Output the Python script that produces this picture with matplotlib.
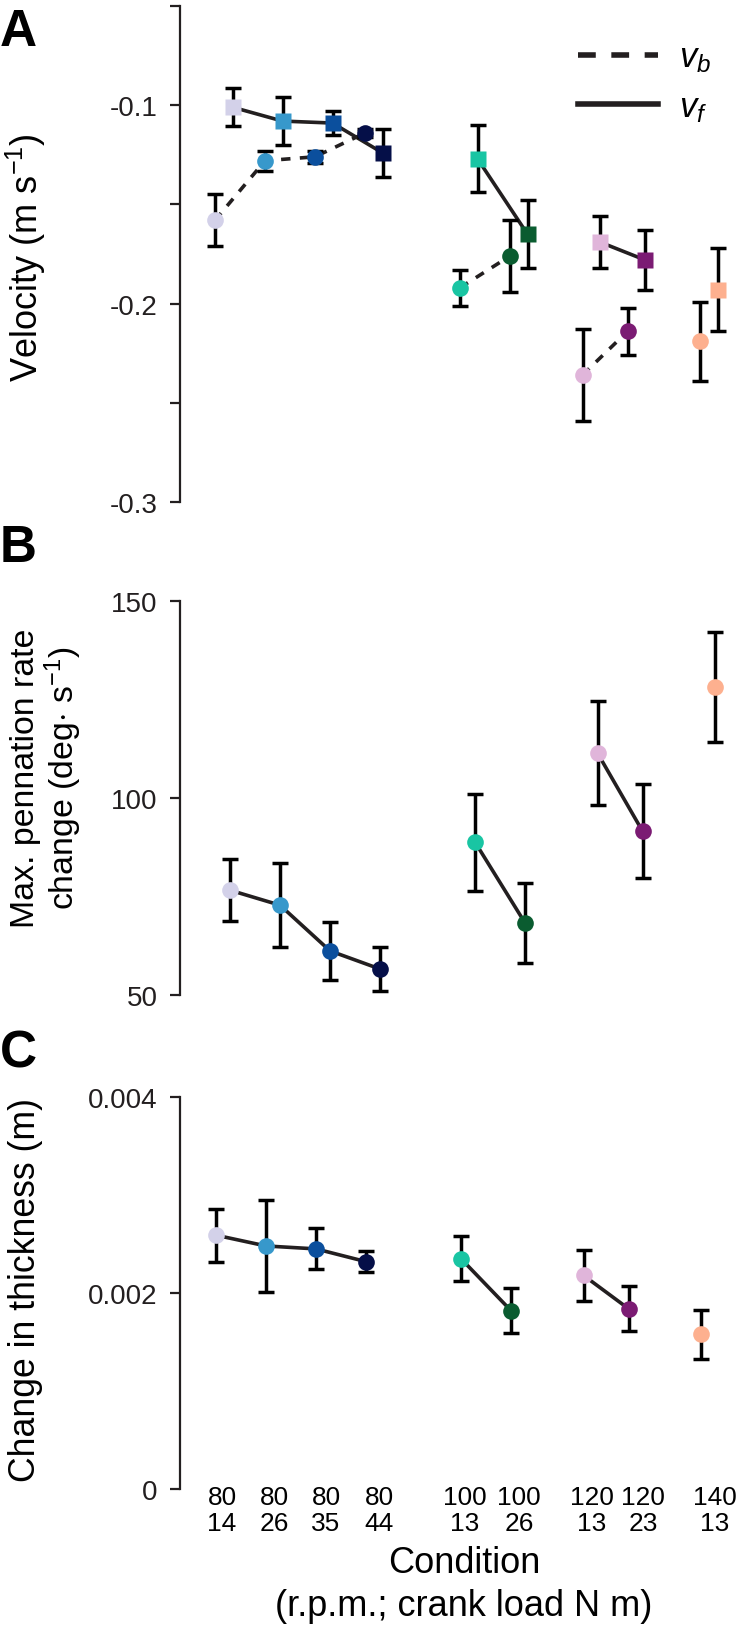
import numpy as np
import matplotlib.pyplot as plt
from matplotlib import font_manager as fm
from matplotlib.lines import Line2D
from matplotlib.ticker import FuncFormatter

# condensed face for axis titles if it is installed, otherwise plain Liberation Sans
NARROW = "Liberation Sans Narrow" in {f.name for f in fm.fontManager.ttflist}
LAB_FONT = ["Liberation Sans Narrow", "Liberation Sans"] if NARROW else ["Liberation Sans"]
SHRINK = 1.0 if NARROW else 0.84

plt.rcParams.update({
    "font.family": ["Liberation Sans", "DejaVu Sans"],
    "mathtext.fontset": "custom",
    "mathtext.rm": "Liberation Sans",
    "mathtext.it": "Liberation Sans:italic",
    "mathtext.bf": "Liberation Sans:bold",
    "axes.linewidth": 1.6,
    "axes.edgecolor": "#231f20",
    "ytick.major.width": 1.6,
    "ytick.minor.width": 1.6,
    "ytick.major.size": 7,
    "ytick.minor.size": 7,
    "ytick.color": "#231f20",
    "ytick.labelsize": 20,
    "ytick.major.pad": 9,
})

# ---- data ----
rpm  = ["80", "80", "80", "80", "100", "100", "120", "120", "140"]
load = ["14", "26", "35", "44", "13", "26", "13", "23", "13"]
colors = ["#d3d1e9", "#3798cb", "#0b4f9d", "#050f48", "#19c5a3",
          "#0a5c30", "#e0b5da", "#7b1b73", "#fdb08f"]
groups = [[0, 1, 2, 3], [4, 5], [6, 7], [8]]

vb_mean = [-0.158, -0.128, -0.126, -0.114, -0.192, -0.176, -0.236, -0.214, -0.219]
vb_err  = [0.013, 0.005, 0.003, 0.002, 0.009, 0.018, 0.023, 0.012, 0.020]
vf_mean = [-0.101, -0.108, -0.109, -0.124, -0.127, -0.165, -0.169, -0.178, -0.193]
vf_err  = [0.0096, 0.012, 0.006, 0.012, 0.017, 0.017, 0.013, 0.015, 0.021]

pen_mean = [76.6, 72.8, 61.2, 56.6, 88.8, 68.3, 111.4, 91.6, 128.2]
pen_err  = [7.8, 10.7, 7.4, 5.6, 12.3, 10.2, 13.2, 12.0, 14.0]

thick_mean = [0.00259, 0.00248, 0.00245, 0.00232, 0.00235, 0.00182, 0.00218, 0.00184, 0.00158]
thick_err  = [0.00027, 0.00047, 0.00021, 0.00011, 0.00023, 0.00023, 0.00026, 0.00023, 0.00025]

# layout: condition slots on the x axis, and where their labels sit
xpos = np.array([1, 2, 3, 4, 5.9, 6.9, 8.35, 9.25, 10.7])
tick_x = [0.84, 1.88, 2.92, 3.98, 5.7, 6.78, 8.24, 9.26, 10.7]

INK = "#231f20"
W, H = 736, 1633
fig = plt.figure(figsize=(W / 100, H / 100), dpi=100)

def px_axes(top, bottom):
    return fig.add_axes([180 / W, (H - bottom) / H, (W - 180) / W, (bottom - top) / H])

def style(ax):
    for s in ("top", "right", "bottom"):
        ax.spines[s].set_visible(False)
    ax.set_xlim(0, 11.12)
    ax.tick_params(axis="x", length=0)

def draw(ax, x, m, e, marker, ls, ms):
    for g in groups:
        if len(g) > 1:
            ax.plot(x[g], [m[i] for i in g], ls=ls, color=INK, lw=2.6, zorder=2,
                    dashes=(2.6, 2.6) if ls == "--" else (None, None), clip_on=False)
    for i in range(len(m)):
        ax.errorbar(x[i], m[i], yerr=e[i], fmt="none", ecolor="black", elinewidth=2.5,
                    capsize=5.5, capthick=2.5, zorder=3, clip_on=False)
        ax.plot(x[i], m[i], marker=marker, ms=ms, color=colors[i], mec="none",
                ls="none", zorder=4, clip_on=False)

# ---- A: velocity ----
axA = px_axes(7, 503)
style(axA)
draw(axA, xpos - 0.3, vb_mean, vb_err, "o", "--", 12)
draw(axA, xpos + 0.05, vf_mean, vf_err, "s", "-", 12)
axA.set_ylim(-0.3, -0.05)
axA.set_yticks([-0.3, -0.2, -0.1])
axA.set_yticks([-0.25, -0.15, -0.05], minor=True)
axA.yaxis.set_major_formatter(FuncFormatter(lambda v, _: f"{v:.1f}"))
axA.set_xticks([])
hnd = [Line2D([], [], color=INK, lw=4, ls="--", dashes=(3.2, 2.8)),
       Line2D([], [], color=INK, lw=4)]
axA.legend(hnd, ["$v_b$", "$v_f$"], loc="upper left", bbox_to_anchor=(0.685, 0.965),
           frameon=False, fontsize=25, handlelength=2.3, handletextpad=0.6,
           labelspacing=0.45, borderpad=0)

# ---- B: pennation rate ----
axB = px_axes(602, 996)
style(axB)
draw(axB, xpos, pen_mean, pen_err, "o", "-", 12)
axB.set_ylim(50, 150)
axB.set_yticks([50, 100, 150])
axB.set_xticks([])

# ---- C: thickness ----
axC = px_axes(1098, 1490)
style(axC)
draw(axC, xpos - 0.28, thick_mean, thick_err, "o", "-", 12)
axC.set_ylim(0, 0.004)
axC.set_yticks([0, 0.002, 0.004])
axC.set_yticklabels(["0", "0.002", "0.004"])
axC.set_xticks(tick_x)
axC.set_xticklabels([f"{r}\n{l}" for r, l in zip(rpm, load)], family=LAB_FONT,
                    fontsize=22.5 * SHRINK, linespacing=1.1)
axC.tick_params(axis="x", pad=-3)

# ---- labels ----
lab = dict(family=LAB_FONT, ha="center", va="center")
fig.text(464 / W, 1 - 1564 / H, "Condition", fontsize=31 * SHRINK, **lab)
fig.text(464 / W, 1 - 1607 / H, "(r.p.m.; crank load N m)", fontsize=31 * SHRINK, **lab)
fig.text(26 / W, 1 - 258 / H, "Velocity (m s$^{-1}$)", rotation=90,
         fontsize=31 * SHRINK, **lab)
fig.text(47 / W, 1 - 778 / H, "Max. pennation rate\nchange (deg$\\cdot$ s$^{-1}$)",
         rotation=90, fontsize=29 * SHRINK, linespacing=1.05, **lab)
fig.text(26 / W, 1 - 1290 / H, "Change in thickness (m)", rotation=90,
         fontsize=30.5 * SHRINK, **lab)
for t, y in [("A", 8), ("B", 524), ("C", 1030)]:
    fig.text(0, 1 - y / H, t, ha="left", va="top", fontsize=37, fontweight="bold")

fig.savefig("out.png", dpi=100)
